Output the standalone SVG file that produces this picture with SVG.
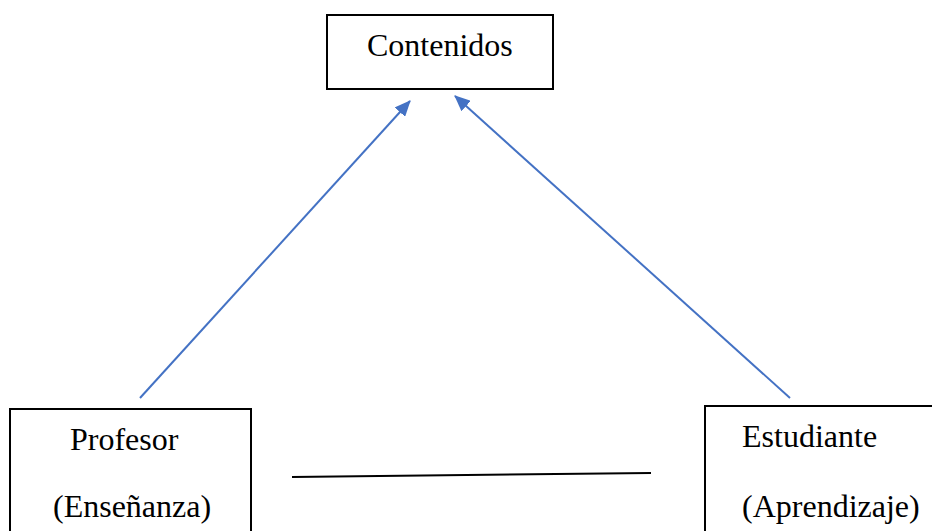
<svg xmlns="http://www.w3.org/2000/svg" width="932" height="531" viewBox="0 0 932 531">
<defs>
<style>
.box{fill:#fff;stroke:#000;stroke-width:2}
.t{font-family:"Liberation Serif","Times New Roman",serif;font-size:32px;fill:#000}
.arr{stroke:#4472C4;stroke-width:2;fill:none}
</style>
<marker id="ah" markerWidth="16" markerHeight="14" refX="15" refY="7" orient="auto" markerUnits="userSpaceOnUse" viewBox="0 0 16 14">
<path d="M0,0 L16,7 L0,14 z" fill="#4472C4"/>
</marker>
</defs>
<rect width="932" height="531" fill="#fff"/>
<g id="contenidos">
<rect class="box" x="327" y="15" width="226" height="74"/>
<text class="t" x="367" y="56">Contenidos</text>
</g>
<g id="profesor">
<rect class="box" x="10" y="409" width="241" height="130"/>
<text class="t" x="70" y="450">Profesor</text>
<text class="t" x="53" y="517">(Enseñanza)</text>
</g>
<g id="estudiante">
<rect class="box" x="705" y="406" width="240" height="130"/>
<text class="t" x="742" y="447">Estudiante</text>
<text class="t" x="742" y="517">(Aprendizaje)</text>
</g>
<g id="connectors">
<line class="arr" x1="140" y1="398" x2="410" y2="101" marker-end="url(#ah)"/>
<line class="arr" x1="790" y1="398" x2="455" y2="96" marker-end="url(#ah)"/>
<line x1="292" y1="477" x2="651" y2="473" stroke="#000" stroke-width="2"/>
</g>
</svg>
